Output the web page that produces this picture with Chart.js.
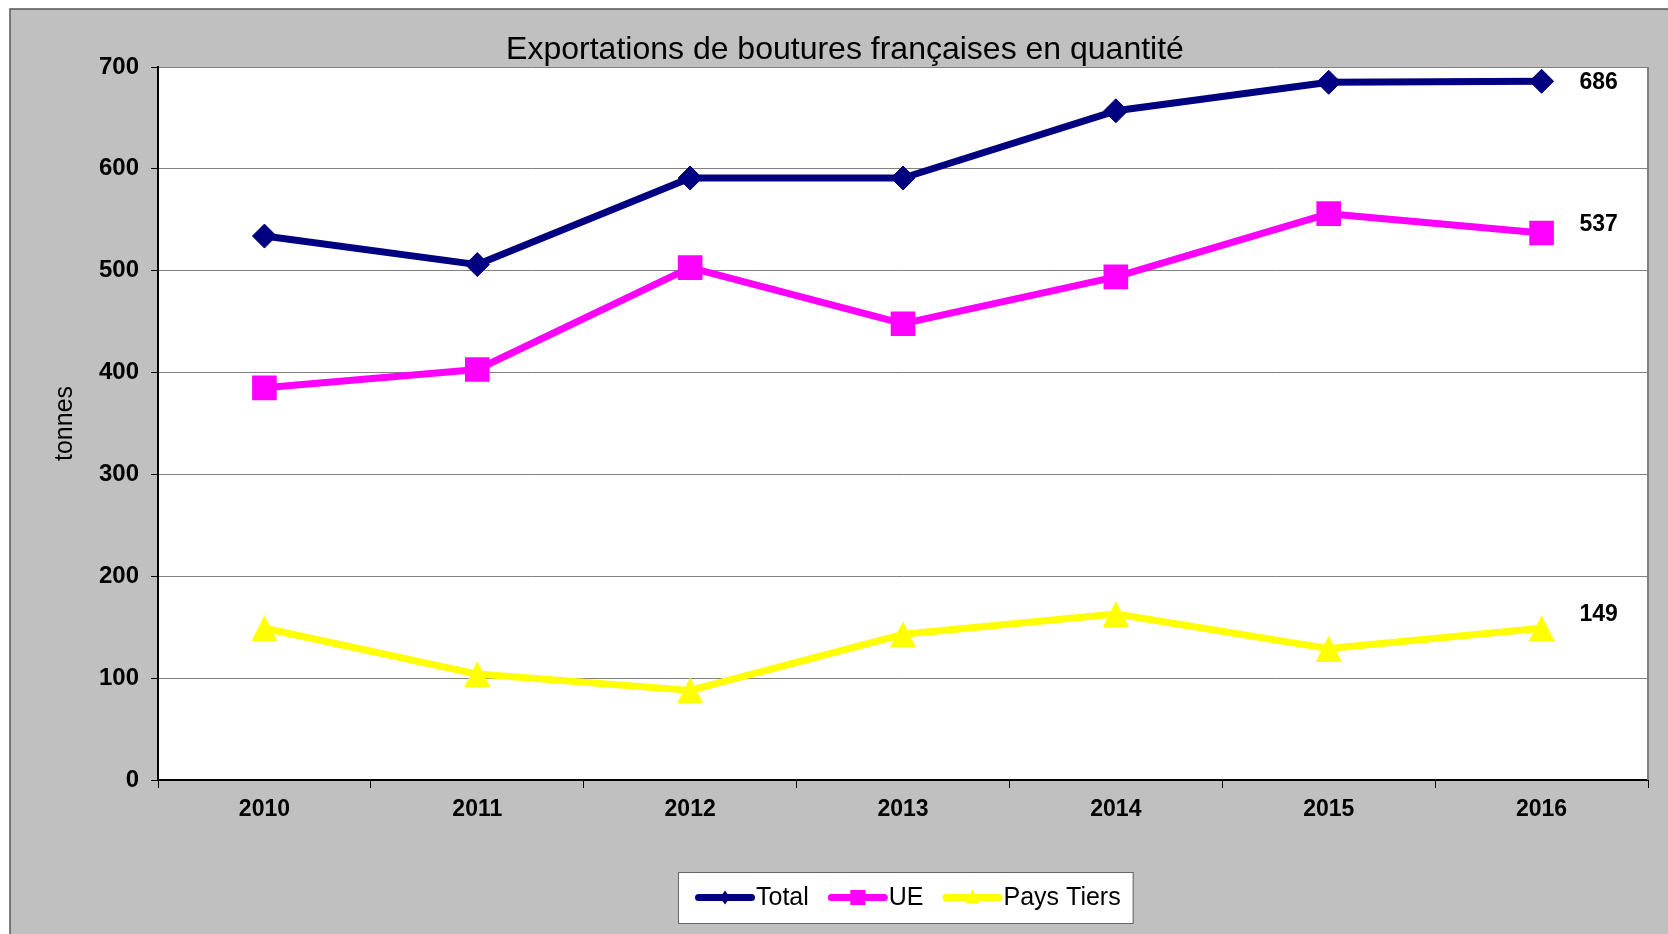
<!DOCTYPE html>
<html>
<head>
<meta charset="utf-8">
<script src="https://cdn.jsdelivr.net/npm/chart.js@4"></script>
<style>
  body { margin: 0; background: #fff; }
  #wrap { width: 1668px; height: 934px; }
</style>
</head>
<body>
<div id="wrap"><canvas id="chart"></canvas></div>
<script>
// valeurs (tonnes)
const annees = ['2010', '2011', '2012', '2013', '2014', '2015', '2016'];
const total = [534, 506, 591, 591, 657, 685, 686];
const ue = [385, 403, 503, 448, 494, 556, 537];
const paysTiers = [149, 104, 88, 143, 163, 129, 149];
const yTicks = [0, 100, 200, 300, 400, 500, 600, 700];

const FONT = '"Liberation Sans", Arial, sans-serif';
Chart.defaults.font.family = FONT;
Chart.defaults.color = '#000';

// triangle centré sur sa boîte (comme Excel)
function makeTriangle(size, color) {
  const c = document.createElement('canvas');
  c.width = size; c.height = size;
  const g = c.getContext('2d');
  g.fillStyle = color;
  g.beginPath();
  g.moveTo(size / 2, 0);
  g.lineTo(size, size);
  g.lineTo(0, size);
  g.closePath();
  g.fill();
  return c;
}

// petits marqueurs de la légende
function drawMark(ctx, type, x, y) {
  ctx.beginPath();
  if (type === 'diamond') {
    ctx.moveTo(x, y - 7); ctx.lineTo(x + 5, y); ctx.lineTo(x, y + 7); ctx.lineTo(x - 5, y);
  } else if (type === 'square') {
    ctx.rect(x - 7.5, y - 7.5, 15, 15);
  } else {
    ctx.moveTo(x, y - 8); ctx.lineTo(x + 7, y + 6); ctx.lineTo(x - 7, y + 6);
  }
  ctx.closePath();
  ctx.fill();
}

// fond gris, bordure, zone de tracé blanche, titre
const fondPlugin = {
  id: 'fond',
  beforeDraw(chart) {
    const { ctx, chartArea: a } = chart;
    ctx.save();
    ctx.fillStyle = '#fff';
    ctx.fillRect(0, 0, chart.width, chart.height);
    ctx.fillStyle = '#c0c0c0';
    ctx.fillRect(10, 9, chart.width - 10, chart.height - 9);
    ctx.strokeStyle = '#555';
    ctx.lineWidth = 1.5;
    ctx.beginPath();
    ctx.moveTo(10, chart.height); ctx.lineTo(10, 9); ctx.lineTo(chart.width, 9);
    ctx.stroke();
    ctx.fillStyle = '#fff';
    ctx.fillRect(a.left, a.top, a.right - a.left, a.bottom - a.top);
    ctx.fillStyle = '#000';
    ctx.font = '32px ' + FONT;
    ctx.textAlign = 'center';
    ctx.textBaseline = 'middle';
    ctx.fillText('Exportations de boutures françaises en quantité', 845, 50);
    ctx.restore();
  },
  beforeDatasetsDraw(chart) {
    const { ctx, chartArea: a } = chart;
    ctx.save();
    ctx.strokeStyle = '#808080';
    ctx.lineWidth = 2;
    ctx.beginPath();
    ctx.moveTo(a.right, a.top); ctx.lineTo(a.right, a.bottom);
    ctx.stroke();
    ctx.restore();
  }
};

// étiquette de la dernière valeur de chaque série
const etiquettesPlugin = {
  id: 'etiquettes',
  afterDatasetsDraw(chart) {
    const ctx = chart.ctx;
    ctx.save();
    ctx.font = 'bold 23px ' + FONT;
    ctx.fillStyle = '#000';
    ctx.textAlign = 'center';
    ctx.textBaseline = 'middle';
    chart.data.datasets.forEach((ds, i) => {
      const pts = chart.getDatasetMeta(i).data;
      const p = pts[pts.length - 1];
      ctx.fillText(ds.data[ds.data.length - 1], p.x + 57, p.y + ds.etiquetteDy);
    });
    ctx.restore();
  }
};

// légende dans un cadre blanc sous le graphique
const legendePlugin = {
  id: 'legende',
  afterDraw(chart) {
    const { ctx, chartArea: a } = chart;
    ctx.save();
    ctx.font = '25px ' + FONT;
    const items = chart.data.datasets.map(ds => ({ ds, w: 61 + ctx.measureText(ds.label).width }));
    const gap = 19, padL = 17, padR = 12;
    const boxW = items.reduce((s, it) => s + it.w, 0) + gap * (items.length - 1) + padL + padR;
    const x0 = 678, y0 = 872, h = 51;
    ctx.fillStyle = '#fff';
    ctx.fillRect(x0, y0, boxW, h);
    ctx.strokeStyle = '#666';
    ctx.lineWidth = 1;
    ctx.strokeRect(x0 + 0.5, y0 + 0.5, boxW, h);
    let x = x0 + padL;
    const y = y0 + h / 2;
    items.forEach(it => {
      const ds = it.ds;
      ctx.strokeStyle = ds.borderColor;
      ctx.lineWidth = 7;
      ctx.lineCap = 'round';
      ctx.beginPath();
      ctx.moveTo(x + 3.5, y); ctx.lineTo(x + 56.5, y);
      ctx.stroke();
      ctx.fillStyle = ds.borderColor;
      drawMark(ctx, ds.marqueLegende, x + 30, y);
      ctx.fillStyle = '#000';
      ctx.textAlign = 'left';
      ctx.textBaseline = 'middle';
      ctx.fillText(ds.label, x + 61, y + 1);
      x += it.w + gap;
    });
    ctx.restore();
  }
};

new Chart(document.getElementById('chart'), {
  type: 'line',
  data: {
    labels: annees,
    datasets: [
      {
        label: 'Total', data: total,
        borderColor: '#000080', backgroundColor: '#000080',
        borderWidth: 7, pointStyle: 'rectRot', pointRadius: 12, pointBorderWidth: 1,
        etiquetteDy: 1, marqueLegende: 'diamond'
      },
      {
        label: 'UE', data: ue,
        borderColor: '#ff00ff', backgroundColor: '#ff00ff',
        borderWidth: 7, pointStyle: 'rect', pointRadius: 17.4, pointBorderWidth: 0,
        etiquetteDy: -8, marqueLegende: 'square'
      },
      {
        label: 'Pays Tiers', data: paysTiers,
        borderColor: '#ffff00', backgroundColor: '#ffff00',
        borderWidth: 7, pointStyle: makeTriangle(26, '#ffff00'), pointRadius: 13,
        etiquetteDy: -14, marqueLegende: 'triangle'
      }
    ]
  },
  options: {
    responsive: true,
    maintainAspectRatio: false,
    animation: false,
    events: [],
    layout: { padding: { top: 67, left: 10, right: 18, bottom: 94 } },
    elements: { line: { tension: 0, borderJoinStyle: 'round', borderCapStyle: 'round' } },
    plugins: {
      legend: { display: false },
      title: { display: false },
      tooltip: { enabled: false }
    },
    scales: {
      x: {
        offset: true,
        grid: { offset: true, drawOnChartArea: false, tickLength: 8, tickColor: '#000' },
        border: { color: '#000', width: 2 },
        ticks: { font: { size: 23, weight: 'bold' }, padding: 8, maxRotation: 0 },
        afterFit(scale) { scale.height = 60; }
      },
      y: {
        min: yTicks[0],
        max: yTicks[yTicks.length - 1],
        afterBuildTicks(scale) { scale.ticks = yTicks.map(v => ({ value: v })); },
        grid: { color: '#808080', lineWidth: 1, tickLength: 7, tickColor: '#000' },
        border: { color: '#000', width: 2 },
        ticks: { font: { size: 24, weight: 'bold' }, padding: 12 },
        title: { display: true, text: 'tonnes', font: { size: 25 }, padding: { top: 40 } },
        afterFit(scale) { scale.width = 148; }
      }
    }
  },
  plugins: [fondPlugin, etiquettesPlugin, legendePlugin]
});
</script>
</body>
</html>
